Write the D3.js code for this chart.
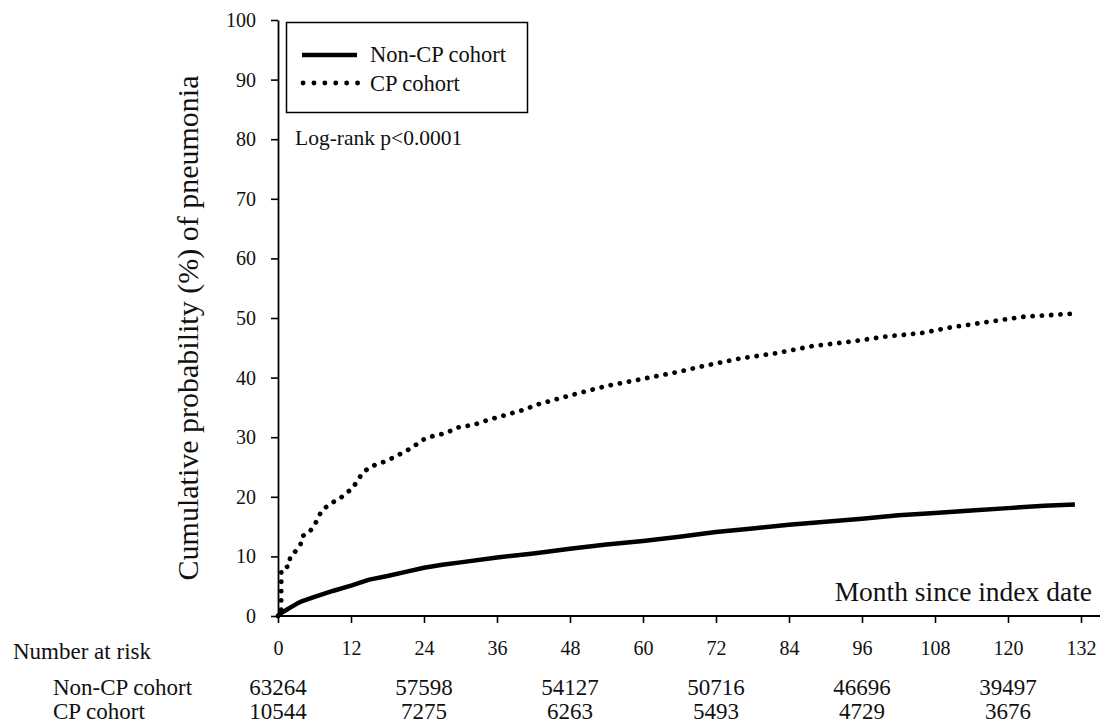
<!DOCTYPE html>
<html>
<head>
<meta charset="utf-8">
<script src="https://cdn.jsdelivr.net/npm/d3@7"></script>
<style>
  html, body { margin: 0; padding: 0; background: #fff; }
  svg { display: block; font-family: "Liberation Serif", "Times New Roman", serif; }
</style>
</head>
<body>
<svg id="chart" width="1103" height="726"></svg>
<script>
// ---- Data ----
const nonCpMonths = [0, 0.5, 1, 2, 3, 4, 6, 9, 12, 15, 18, 21, 24, 27, 30, 36, 42, 48, 54, 60, 66, 72, 78, 84, 90, 96, 102, 108, 114, 120, 126, 131];
const nonCpValues = [0, 0.5, 0.8, 1.4, 2.0, 2.5, 3.2, 4.2, 5.1, 6.1, 6.7, 7.4, 8.1, 8.6, 9.0, 9.8, 10.5, 11.3, 12.0, 12.6, 13.3, 14.1, 14.7, 15.3, 15.8, 16.3, 16.9, 17.3, 17.7, 18.1, 18.5, 18.7];

const cpMonths = [0, 0.5, 0.55, 1.8, 2, 2.9, 3.7, 4, 5.1, 5.9, 6.5, 7, 7.8, 8.9, 10, 11, 12.3, 12.8, 13.9, 15, 16.1, 17.8, 19.4, 21.1, 22.8, 23.9, 25.5, 27.7, 29.4, 32.2, 34.9, 37.7, 40.4, 42.7, 48, 54, 60, 66, 69.3, 75.9, 81.9, 87.9, 93.9, 100, 106, 110.4, 116.4, 122.4, 130.2];
const cpValues = [0, 0, 7.8, 8.4, 9.9, 10.9, 12.0, 13.4, 14.0, 15.1, 16.2, 17.3, 18.2, 19.0, 19.6, 20.4, 21.5, 22.3, 24.0, 24.9, 25.4, 26.0, 26.8, 27.7, 28.8, 29.6, 30.2, 30.7, 31.6, 32.1, 33.0, 33.8, 34.6, 35.5, 37.0, 38.6, 39.8, 41.0, 41.8, 43.2, 44.1, 45.3, 46.0, 46.9, 47.5, 48.4, 49.3, 50.2, 50.7];

const xTicks = [0, 12, 24, 36, 48, 60, 72, 84, 96, 108, 120, 132];
const yTicks = [0, 10, 20, 30, 40, 50, 60, 70, 80, 90, 100];

const riskMonths = [0, 24, 48, 72, 96, 120];
const riskNonCp = ["63264", "57598", "54127", "50716", "46696", "39497"];
const riskCp = ["10544", "7275", "6263", "5493", "4729", "3676"];

const seriesNames = ["Non-CP cohort", "CP cohort"];

// ---- Drawing ----
const FONT = "Liberation Serif, Times New Roman, serif";
const svg = d3.select("#chart").attr("font-family", FONT);
const x = d3.scaleLinear().domain([0, 132]).range([278, 1081]);
const y = d3.scaleLinear().domain([0, 100]).range([616, 20]);

// Y axis
const yAxis = svg.append("g")
  .attr("transform", `translate(${x(0)},0)`)
  .call(d3.axisLeft(y).tickValues(yTicks).tickSize(7).tickPadding(15).tickSizeOuter(0));
yAxis.attr("font-family", FONT);
yAxis.select(".domain").attr("stroke-width", 1.8);
yAxis.selectAll(".tick line").attr("stroke-width", 1.6);
yAxis.selectAll("text").attr("font-size", 20).attr("fill", "#111");

// X axis
const xAxis = svg.append("g")
  .attr("transform", `translate(0,${y(0)})`)
  .call(d3.axisBottom(x).tickValues(xTicks).tickSize(7).tickPadding(18).tickSizeOuter(0));
xAxis.attr("font-family", FONT);
xAxis.select(".domain").attr("d", `M${x(0)},0H1100`).attr("stroke-width", 1.8);
xAxis.selectAll(".tick line").attr("stroke-width", 1.6);
xAxis.selectAll("text").attr("font-size", 20).attr("fill", "#111");

// Lines
const line = d3.line().x(d => x(d[0])).y(d => y(d[1])).curve(d3.curveLinear);
const nonCp = nonCpMonths.map((m, i) => [m, nonCpValues[i]]);
const cp = cpMonths.map((m, i) => [m, cpValues[i]]);

svg.append("path").datum(nonCp).attr("d", line)
  .attr("fill", "none").attr("stroke", "#000").attr("stroke-width", 4.5)
  .attr("stroke-linejoin", "round");
svg.append("path").datum(cp).attr("d", line)
  .attr("fill", "none").attr("stroke", "#000").attr("stroke-width", 4.8)
  .attr("stroke-linecap", "round").attr("stroke-dasharray", "0.1 9.2");

// Y title
svg.append("text")
  .attr("transform", `translate(198,328) rotate(-90)`)
  .attr("text-anchor", "middle")
  .attr("font-size", 30).attr("fill", "#111")
  .text("Cumulative probability (%) of pneumonia");

// X title
svg.append("text")
  .attr("x", 1092).attr("y", 601)
  .attr("text-anchor", "end")
  .attr("font-size", 27.5).attr("fill", "#111")
  .text("Month since index date");

// Legend
const lg = svg.append("g");
lg.append("rect").attr("x", 286.5).attr("y", 22.5).attr("width", 241).attr("height", 90)
  .attr("fill", "#fff").attr("stroke", "#000").attr("stroke-width", 1.5);
lg.append("line").attr("x1", 302).attr("x2", 357).attr("y1", 55).attr("y2", 55)
  .attr("stroke", "#000").attr("stroke-width", 4.5);
lg.append("line").attr("x1", 303).attr("x2", 358).attr("y1", 83).attr("y2", 83)
  .attr("stroke", "#000").attr("stroke-width", 4.8)
  .attr("stroke-linecap", "round").attr("stroke-dasharray", "0.1 10.8");
lg.append("text").attr("x", 370).attr("y", 62).attr("font-size", 22.5).attr("fill", "#111").text(seriesNames[0]);
lg.append("text").attr("x", 370).attr("y", 91).attr("font-size", 22.5).attr("fill", "#111").text(seriesNames[1]);

svg.append("text").attr("x", 295).attr("y", 145).attr("font-size", 21.5).attr("fill", "#111")
  .text("Log-rank p<0.0001");

// Number at risk
svg.append("text").attr("x", 13).attr("y", 659).attr("font-size", 23).attr("fill", "#111").text("Number at risk");
svg.append("text").attr("x", 53).attr("y", 695).attr("font-size", 23).attr("fill", "#111").text(seriesNames[0]);
svg.append("text").attr("x", 53).attr("y", 719).attr("font-size", 23).attr("fill", "#111").text(seriesNames[1]);

svg.append("g").selectAll("text").data(riskMonths).join("text")
  .attr("x", d => x(d)).attr("y", 695).attr("text-anchor", "middle")
  .attr("font-size", 23).attr("fill", "#111")
  .text((d, i) => riskNonCp[i]);
svg.append("g").selectAll("text").data(riskMonths).join("text")
  .attr("x", d => x(d)).attr("y", 719).attr("text-anchor", "middle")
  .attr("font-size", 23).attr("fill", "#111")
  .text((d, i) => riskCp[i]);
</script>
</body>
</html>
